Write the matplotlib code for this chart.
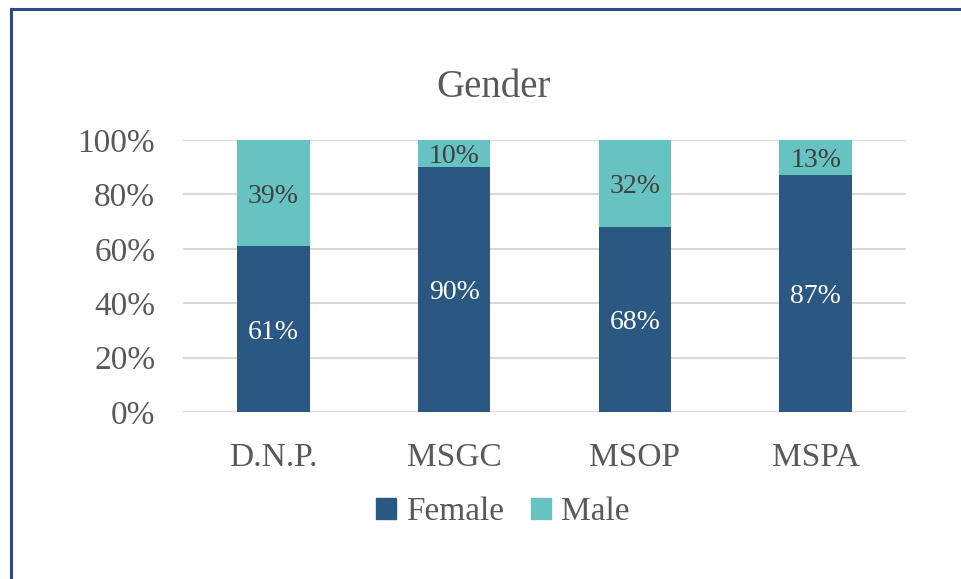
import matplotlib
matplotlib.use("Agg")
from matplotlib import pyplot as plt
from matplotlib.lines import Line2D
from matplotlib.patches import Patch
from matplotlib.ticker import PercentFormatter

categories = ["D.N.P.", "MSGC", "MSOP", "MSPA"]
female = [61, 90, 68, 87]
male = [39, 10, 32, 13]
yticks = [0, 20, 40, 60, 80, 100]

FEMALE_C = "#2B5783"
MALE_C = "#67C3C1"
TEXT_C = "#595959"

plt.rcParams["font.family"] = ["Liberation Serif", "DejaVu Serif"]

fig = plt.figure(figsize=(9.61, 5.79), dpi=100)
ax = fig.add_axes([183 / 961, 1 - 412 / 579, (906 - 183) / 961, (412 - 140) / 579])

x = list(range(len(categories)))
bw = 0.4
ax.bar(x, female, width=bw, color=FEMALE_C, zorder=3)
ax.bar(x, male, width=bw, bottom=female, color=MALE_C, zorder=3)

for xi, f, m in zip(x, female, male):
    ax.text(xi, f / 2, f"{f}%", ha="center", va="center_baseline",
            color="white", fontsize=20, zorder=4)
    ax.text(xi, f + m / 2, f"{m}%", ha="center", va="center_baseline",
            color="#404040", fontsize=20, zorder=4)

ax.set_xlim(-0.5, len(categories) - 0.5)
ax.set_ylim(0, 100)
ax.set_yticks(yticks)
ax.yaxis.set_major_formatter(PercentFormatter(decimals=0))
ax.set_xticks(x)
ax.set_xticklabels(categories)
ax.grid(axis="y", color="#D9D9D9", linewidth=1.5, zorder=0)
for s in ax.spines.values():
    s.set_visible(False)
ax.tick_params(axis="both", length=0, labelsize=24, colors=TEXT_C)
ax.tick_params(axis="y", pad=20)
ax.tick_params(axis="x", pad=22)

fig.text(494 / 961, 1 - 88 / 579, "Gender", ha="center", va="center",
         fontsize=28, color=TEXT_C)

handles = [Patch(color=FEMALE_C, label="Female"), Patch(color=MALE_C, label="Male")]
fig.legend(handles=handles, loc="center", bbox_to_anchor=(503 / 961, 1 - 512 / 579),
           ncol=2, frameon=False, fontsize=24, labelcolor=TEXT_C,
           handlelength=0.6, handleheight=0.6, handletextpad=0.3, columnspacing=0.8)

# chart border (top and left edges visible)
fig.add_artist(Line2D([11 / 961, 11 / 961], [0, 1 - 9 / 579], transform=fig.transFigure,
                      color="#2E4690", linewidth=2.2))
fig.add_artist(Line2D([11 / 961, 1], [1 - 9 / 579, 1 - 9 / 579], transform=fig.transFigure,
                      color="#2E4690", linewidth=2.2))

fig.savefig("out.png", dpi=100)
